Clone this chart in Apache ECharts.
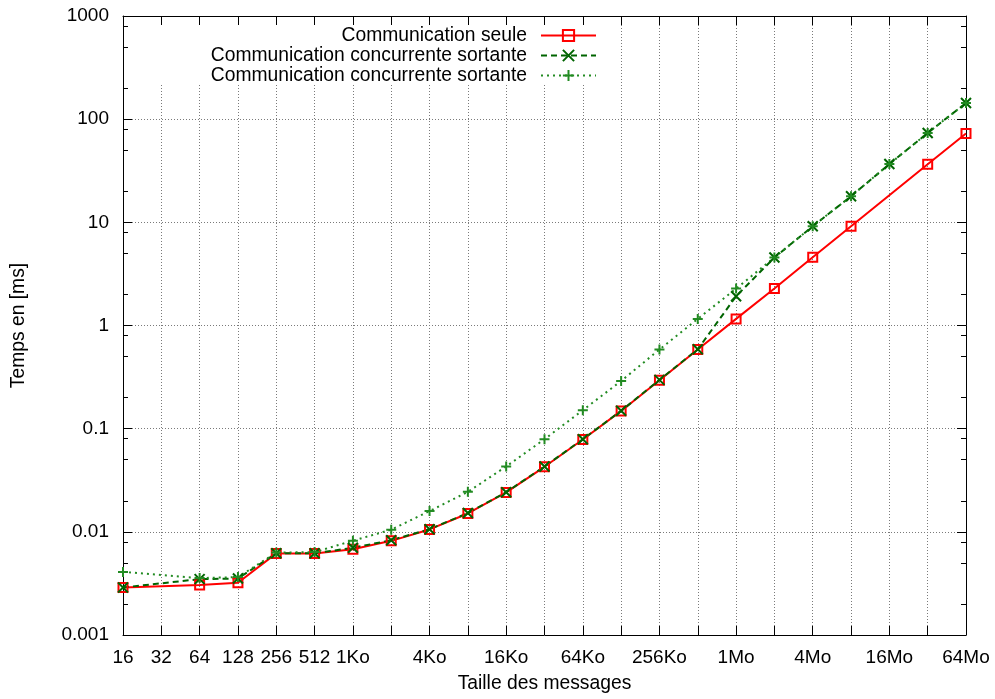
<!DOCTYPE html>
<html>
<head>
<meta charset="utf-8">
<script src="https://cdn.jsdelivr.net/npm/echarts@6/dist/echarts.min.js"></script>
<style>html,body{margin:0;padding:0;background:#fff}#c{width:995px;height:699px}</style>
</head>
<body>
<div id="c"></div>
<script>
// Message sizes (bytes)
const sizes = [16, 64, 128, 256, 512, 1024, 2048, 4096, 8192, 16384, 32768, 65536,
  131072, 262144, 524288, 1048576, 2097152, 4194304, 8388608, 16777216, 33554432, 67108864];
// Times in ms
const seule = [0.00289, 0.00305, 0.00321, 0.00618, 0.00618, 0.00679, 0.00818, 0.01055, 0.01507, 0.0241,
  0.0427, 0.0785, 0.1486, 0.295, 0.585, 1.159, 2.28, 4.59, 9.16, null, 36.6, 72.5];
const concDashed = [0.00289, 0.00348, 0.00353, 0.0062, 0.0062, 0.0070, 0.0083, 0.0106, 0.0152, 0.0242,
  0.0430, 0.0790, 0.149, 0.297, 0.588, 1.92, 4.56, 9.16, 17.9, 36.7, 73.5, 143.5];
const concDotted = [0.00409, 0.00356, 0.00364, 0.00629, 0.00636, 0.0082, 0.0105, 0.0159, 0.0244, 0.0430,
  0.079, 0.151, 0.29, 0.585, 1.159, 2.28, 4.56, 9.16, 17.9, 36.7, 73.5, 143.5];

const seriesNames = ['Communication seule', 'Communication concurrente sortante', 'Communication concurrente sortante'];

// X ticks (every power of two) and labels
const xTickValues = [16, 32, 64, 128, 256, 512, 1024, 2048, 4096, 8192, 16384, 32768, 65536,
  131072, 262144, 524288, 1048576, 2097152, 4194304, 8388608, 16777216, 33554432, 67108864];
const xLabelValues = [16, 32, 64, 128, 256, 512, 1024, 4096, 16384, 65536, 262144, 1048576, 4194304, 16777216, 67108864];
const xLabelTexts = ['16', '32', '64', '128', '256', '512', '1Ko', '4Ko', '16Ko', '64Ko', '256Ko', '1Mo', '4Mo', '16Mo', '64Mo'];

// Y ticks
const yLabelValues = [0.001, 0.01, 0.1, 1, 10, 100, 1000];
const yLabelTexts = ['0.001', '0.01', '0.1', '1', '10', '100', '1000'];
const yMinorValues = [0.002, 0.005, 0.008, 0.02, 0.05, 0.08, 0.2, 0.5, 0.8, 2, 5, 8, 20, 50, 80, 200, 500, 800];

function lookup(values, texts, v) {
  for (let i = 0; i < values.length; i++) {
    if (Math.abs(v - values[i]) <= values[i] * 1e-6) return texts[i];
  }
  return '';
}

const FONT = 'Liberation Sans';
const BLACK = '#000';
const TICK_FS = 19;
const TEXT_FS = 19.3;

function xAxisDef(pos, main) {
  return {
    type: 'log', logBase: 2, min: 16, max: 67108864, position: pos,
    name: main ? 'Taille des messages' : '',
    nameLocation: 'middle', nameGap: 39,
    nameTextStyle: { fontSize: TEXT_FS, color: BLACK, fontFamily: FONT },
    axisLine: { show: true, onZero: false, lineStyle: { color: BLACK, width: 1 } },
    axisTick: { show: true, inside: true, length: 9, customValues: xTickValues, lineStyle: { color: BLACK, width: 1 } },
    axisLabel: main ? {
      show: true, customValues: xLabelValues, margin: 13, color: BLACK, fontSize: TICK_FS, fontFamily: FONT,
      formatter: v => lookup(xLabelValues, xLabelTexts, v)
    } : { show: false },
    splitLine: main ? { show: true, lineStyle: { color: '#7a7a7a', width: 1, type: [1, 2] } } : { show: false },
    minorTick: { show: false }, minorSplitLine: { show: false }
  };
}

function yAxisDef(pos, kind) {
  const major = kind === 'major';
  const main = major && pos === 'left';
  return {
    type: 'log', logBase: 10, min: 0.001, max: 1000, position: pos,
    name: main ? 'Temps en [ms]' : '',
    nameLocation: 'middle', nameGap: 95, nameRotate: 90,
    nameTextStyle: { fontSize: TEXT_FS, color: BLACK, fontFamily: FONT },
    axisLine: { show: major, onZero: false, lineStyle: { color: BLACK, width: 1 } },
    axisTick: { show: true, inside: true, length: major ? 9 : 5,
      customValues: major ? yLabelValues : yMinorValues, lineStyle: { color: BLACK, width: 1 } },
    axisLabel: main ? {
      show: true, customValues: yLabelValues, margin: 14, color: BLACK, fontSize: TICK_FS, fontFamily: FONT,
      formatter: v => lookup(yLabelValues, yLabelTexts, v)
    } : { show: false },
    splitLine: main ? { show: true, lineStyle: { color: '#7a7a7a', width: 1, type: [1, 2] } } : { show: false },
    minorTick: { show: false }, minorSplitLine: { show: false }
  };
}

function pairs(vals) {
  return sizes.map((s, i) => [s, vals[i]]).filter(p => p[1] != null);
}

const legendIds = ['s1', 's2', 's3'];

const option = {
  animation: false,
  backgroundColor: '#fff',
  textStyle: { fontFamily: FONT },
  grid: { left: 123, right: 29, top: 16, bottom: 64, containLabel: false },
  legend: {
    orient: 'vertical', align: 'right', right: 390, top: 25,
    itemWidth: 55, itemHeight: 14, itemGap: 1,
    padding: [1, 8, 0, 68], backgroundColor: '#fff',
    textStyle: { fontSize: TEXT_FS, lineHeight: 14, color: BLACK, fontFamily: FONT, padding: [0, 9, 0, 0] },
    data: legendIds,
    formatter: n => seriesNames[legendIds.indexOf(n)],
    selectedMode: false
  },
  xAxis: [xAxisDef('bottom', true), xAxisDef('top', false)],
  yAxis: [yAxisDef('left', 'major'), yAxisDef('left', 'minor'), yAxisDef('right', 'major'), yAxisDef('right', 'minor')],
  series: [
    {
      name: 's1', type: 'line', xAxisIndex: 0, yAxisIndex: 0, data: pairs(seule),
      symbol: 'path://M0,0H10V10H0Z', symbolSize: 9,
      lineStyle: { color: '#ff0000', width: 2 },
      itemStyle: { color: 'rgba(0,0,0,0)', borderColor: '#ff0000', borderWidth: 2 }
    },
    {
      name: 's2', type: 'line', xAxisIndex: 0, yAxisIndex: 0, data: pairs(concDashed),
      symbol: 'path://M0,0L10,10M10,0L0,10', symbolSize: 10,
      lineStyle: { color: '#006400', width: 2, type: [6, 4] },
      itemStyle: { color: 'rgba(0,0,0,0)', borderColor: '#006400', borderWidth: 2 }
    },
    {
      name: 's3', type: 'line', xAxisIndex: 0, yAxisIndex: 0, data: pairs(concDotted),
      symbol: 'path://M5,0L5,10M0,5L10,5', symbolSize: 10,
      lineStyle: { color: '#228b22', width: 2, type: [2, 4] },
      itemStyle: { color: 'rgba(0,0,0,0)', borderColor: '#228b22', borderWidth: 2 }
    }
  ]
};

const chart = echarts.init(document.getElementById('c'), null, { renderer: 'canvas' });
chart.setOption(option);
</script>
</body>
</html>
